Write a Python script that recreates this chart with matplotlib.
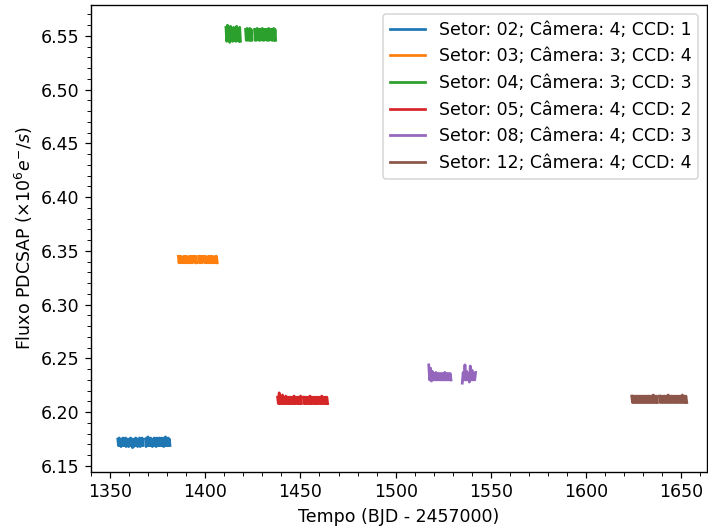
import numpy as np
import matplotlib
matplotlib.use("Agg")
import matplotlib.pyplot as plt
from matplotlib.ticker import MultipleLocator

# sectors: label, orbit segments (start, end) in BJD-2457000, mean flux (1e6 e-/s)
labels = ["Setor: 02; Câmera: 4; CCD: 1",
          "Setor: 03; Câmera: 3; CCD: 4",
          "Setor: 04; Câmera: 3; CCD: 3",
          "Setor: 05; Câmera: 4; CCD: 2",
          "Setor: 08; Câmera: 4; CCD: 3",
          "Setor: 12; Câmera: 4; CCD: 4"]

segments = [[(1354.1, 1367.2), (1368.6, 1381.5)],
            [(1385.9, 1395.5), (1396.6, 1406.3)],
            [(1410.9, 1418.5), (1421.2, 1424.5), (1425.9, 1437.0)],
            [(1438.0, 1450.5), (1451.5, 1464.3)],
            [(1517.4, 1529.1), (1535.0, 1542.0)],
            [(1624.0, 1637.5), (1638.5, 1652.9)]]

levels = [6.172, 6.342, 6.551, 6.211, 6.233, 6.212]

# flux scatter, in units of 1e-3 (1e6 e-/s), one list per segment
dev02 = [[3, -3, 4, -3, 3, -4, 3, -3, 4, -3, 3, -3, 4, -4, 3, -3, 3, -4, 3, -3, 4, -3, 3, -5,
          3, -4, 3, -3, 4, -3, 3, -4, 3, -3, 4, -4, 3, -3, 4, -3],
         [3, -4, 4, -3, 5, -3, 3, -3, 4, -3, 3, -4, 3, -3, 4, -3, 3, -4, 4, -3, 3, -3, 4, -3,
          3, -3, 4, -3, 3, -4, 4, -3, 5, -3, 3, -3, 4, -3, 3, -3]]
dev03 = [[3, -3, 3, -3, 3, -3, 2, -3, 3, -3, 3, -3, 3, -3, 2, -3, 3, -3, 3, -3, 3, -3, 3, -2,
          3, -3, 3, -3],
         [3, -3, 3, -3, 3, -3, 3, -2, 3, -3, 3, -3, 2, -3, 3, -3, 3, -3, 3, -3, 3, -3, 2, -3,
          3, -3, 3, -3]]
dev04 = [[7, -6, 9, -5, 6, -7, 8, -5, 6, -6, 7, -5, 6, -6, 8, -5, 6, -6, 7, -6],
         [5, -5, 6, -5, 5, -5, 6, -5, 5, -5],
         [5, -5, 5, -5, 6, -4, 5, -5, 5, -5, 5, -4, 6, -5, 5, -5, 5, -4, 5, -5, 5, -5, 6, -5,
          5, -4, 5, -5, 5, -5, 6, -5, 5, -5]]
dev05 = [[3, -3, 7, -3, 3, -3, 5, -3, 3, -3, 4, -3, 3, -3, 3, -3, 3, -3, 3, -3, 4, -3, 3, -3,
          3, -3, 3, -3, 4, -3],
         [3, -3, 3, -3, 3, -3, 3, -3, 4, -3, 3, -3, 3, -3, 3, -3, 3, -3, 3, -3, 3, -3, 4, -3,
          3, -3, 3, -3, 3, -3]]
dev08 = [[11, -3, 8, -4, 5, -3, 3, -3, 4, -3, 3, -3, 3, -3, 3, -3, 3, -3, 4, -3, 3, -3, 3, -3,
          3, -3],
         [-6, 4, -3, 11, -3, 5, -3, 3, -5, 10, -3, 6, -3, 3, -3, 4]]
dev12 = [[3, -3, 3, -3, 3, -3, 3, -3, 3, -3, 3, -3, 3, -3, 3, -3, 3, -3, 3, -3, 3, -3, 3, -3,
          3, -3, 4, -3, 3, -3, 3, -3],
         [3, -3, 3, -3, 3, -3, 3, -3, 3, -3, 4, -3, 3, -3, 3, -3, 3, -3, 3, -3, 3, -3, 3, -3,
          3, -3, 4, -3, 3, -3, 3, -3]]
devs = [dev02, dev03, dev04, dev05, dev08, dev12]

plt.rcParams["font.size"] = 11.4
plt.rcParams["axes.linewidth"] = 0.9
plt.rcParams["xtick.major.size"] = 4
plt.rcParams["ytick.major.size"] = 4
plt.rcParams["xtick.minor.size"] = 2.3
plt.rcParams["ytick.minor.size"] = 2.3

fig = plt.figure(figsize=(708 / 110, 529 / 110), dpi=110)
ax = fig.add_axes([0.1285, 0.1078, 0.870, 0.8828])

for i in range(len(labels)):
    color = "C%d" % i
    for j, (t0, t1) in enumerate(segments[i]):
        d = np.array(devs[i][j])
        t = np.linspace(t0, t1, len(d))
        f = levels[i] + d * 1e-3
        ax.plot(t, f, color=color, lw=1.8, label=labels[i] if j == 0 else None)

ax.set_xlim(1340, 1663.5)
ax.set_ylim(6.1444, 6.5788)
ax.xaxis.set_major_locator(MultipleLocator(50))
ax.xaxis.set_minor_locator(MultipleLocator(10))
ax.yaxis.set_major_locator(MultipleLocator(0.05))
ax.yaxis.set_minor_locator(MultipleLocator(0.01))
ax.set_xlabel("Tempo (BJD - 2457000)")
ax.set_ylabel(r"Fluxo PDCSAP ($\times10^{6}e^{-}/s$)")
ax.legend(loc="upper right")

plt.savefig("out.png", dpi=110)
